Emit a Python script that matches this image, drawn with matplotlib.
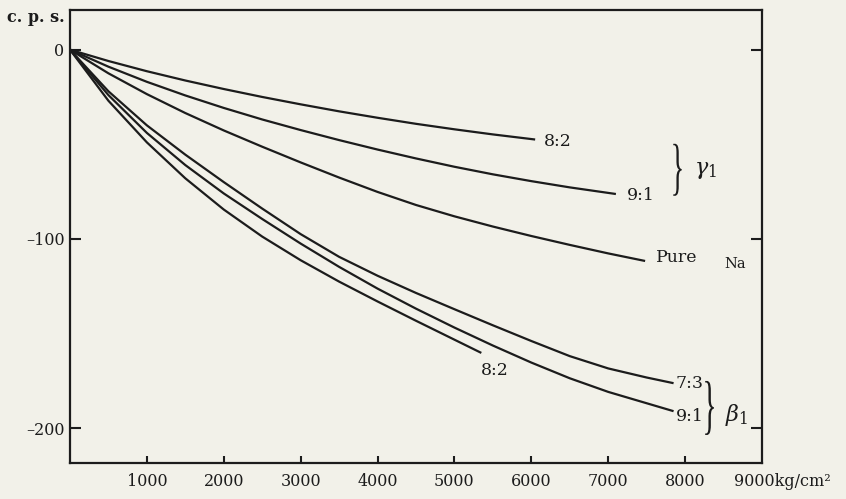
import matplotlib
matplotlib.use('Agg')
import matplotlib.pyplot as plt
from matplotlib.transforms import blended_transform_factory, Affine2D, ScaledTranslation
from matplotlib.textpath import TextPath
from matplotlib.patches import PathPatch
from matplotlib.font_manager import FontProperties

# curves (pressure kg/cm2 vs c.p.s.)
gamma_82_x = [0, 500, 1000, 1500, 2000, 2500, 3000, 3500, 4000, 4500, 5000, 5500, 6050]
gamma_82_y = [0, -6, -11.4, -16.3, -20.8, -25, -28.9, -32.6, -36, -39.2, -42.1, -44.8, -47.5]

gamma_91_x = [0, 500, 1000, 1500, 2000, 2500, 3000, 3500, 4000, 4500, 5000, 5500, 6000, 6500, 7100]
gamma_91_y = [0, -9, -17, -24.2, -30.8, -36.9, -42.5, -47.8, -52.8, -57.5, -61.9, -65.9, -69.5, -72.8, -76.3]

pure_x = [0, 500, 1000, 1500, 2000, 2500, 3000, 3500, 4000, 4500, 5000, 5500, 6000, 6500, 7000, 7480]
pure_y = [0, -12.5, -23.5, -33.5, -42.7, -51.3, -59.6, -67.6, -75.2, -82.1, -88.1, -93.5, -98.5, -103.2, -107.7, -111.7]

beta_82_x = [0, 500, 1000, 1500, 2000, 2500, 3000, 3500, 4000, 4500, 5000, 5350]
beta_82_y = [0, -27, -49, -68, -84.5, -98.8, -111.3, -122.6, -133.1, -143.3, -153.3, -160.3]

beta_91_x = [0, 500, 1000, 1500, 2000, 2500, 3000, 3500, 4000, 4500, 5000, 5500, 6000, 6500, 7000, 7500, 7850]
beta_91_y = [0, -24, -44, -61, -76, -89.5, -102.5, -114.8, -126.3, -136.9, -146.9, -156.4, -165.4, -173.7, -180.9, -186.9, -191.1]

beta_73_x = [0, 500, 1000, 1500, 2000, 2500, 3000, 3500, 4000, 4500, 5000, 5500, 6000, 6500, 7000, 7500, 7850]
beta_73_y = [0, -22, -40, -55.5, -70, -84, -97.5, -109.5, -119.5, -128.6, -137.2, -145.7, -154, -162, -168.5, -173.3, -176.3]

xticks = [1000, 2000, 3000, 4000, 5000, 6000, 7000, 8000]
yticks = [0, -100, -200]
ytick_labels = ['0', '\u2013100', '\u2013200']

bg = '#f2f1e9'
ink = '#1c1c1c'
plt.rcParams['font.family'] = ['DejaVu Serif']
plt.rcParams['mathtext.fontset'] = 'dejavuserif'

fig = plt.figure(figsize=(8.46, 4.99), dpi=100)
fig.patch.set_facecolor(bg)
ax = fig.add_axes([0.0827, 0.0721, 0.818, 0.908])
ax.set_facecolor(bg)

for xs, ys in [(gamma_82_x, gamma_82_y), (gamma_91_x, gamma_91_y), (pure_x, pure_y),
               (beta_82_x, beta_82_y), (beta_91_x, beta_91_y), (beta_73_x, beta_73_y)]:
	ax.plot(xs, ys, color=ink, lw=1.6, solid_capstyle='butt', solid_joinstyle='round')

ax.set_xlim(0, 9000)
ax.set_ylim(-218.5, 21)
for s in ax.spines.values():
	s.set_linewidth(1.6)
	s.set_color(ink)

ax.set_xticks(xticks)
ax.set_xticklabels([str(t) for t in xticks])
ax.set_yticks(yticks)
ax.set_yticklabels(ytick_labels)
ax.tick_params(axis='x', direction='in', length=5, width=1.5, pad=7, labelsize=11.5, colors=ink)
ax.tick_params(axis='y', direction='in', length=8, width=1.5, pad=4, labelsize=11.5, colors=ink,
	left=True, right=True)

# last x label sits at the corner with the unit attached
tr = blended_transform_factory(ax.transData, ax.transAxes)
ax.text(8640, -0.0415, '9000kg/cm\u00b2', transform=tr, ha='left', va='center',
	fontsize=11.5, color=ink, clip_on=False)

fig.text(7/846, 1-18/499, 'c. p. s.', ha='left', va='center', fontsize=11.5,
	fontweight='bold', color=ink)

# curve labels
fs = 12.5
ax.text(6167, -48.7, '8:2', ha='left', va='center', fontsize=fs, color=ink)
ax.text(7249, -77, '9:1', ha='left', va='center', fontsize=fs, color=ink)
ax.text(7627, -110, 'Pure', ha='left', va='center', fontsize=fs, color=ink)
ax.text(8514, -113.5, 'Na', ha='left', va='center', fontsize=10.5, color=ink)
ax.text(5346, -169.6, '8:2', ha='left', va='center', fontsize=fs, color=ink)
ax.text(7875, -176.5, '7:3', ha='left', va='center', fontsize=fs, color=ink)
ax.text(7875, -194, '9:1', ha='left', va='center', fontsize=fs, color=ink)


def brace(x, y, height_px):
	# tall thin "}" drawn from the glyph outline, stretched vertically
	tp = TextPath((0, 0), '}', size=20, prop=FontProperties(family='Liberation Serif'))
	ext = tp.get_extents()
	cx = (ext.x0 + ext.x1) / 2
	cy = (ext.y0 + ext.y1) / 2
	sy = height_px / ext.height
	sx = sy * 0.45
	t = Affine2D().translate(-cx, -cy).scale(sx, sy) + ScaledTranslation(x, y, ax.transData)
	ax.add_patch(PathPatch(tp, transform=t, facecolor=ink, edgecolor='none', clip_on=False))


brace(7901, -63.5, 52)
ax.text(8122, -63.5, r'$\gamma_1$', ha='left', va='center', fontsize=16, color=ink)
brace(8318, -189.4, 54)
ax.text(8514, -193, r'$\beta_1$', ha='left', va='center', fontsize=16, color=ink)

plt.savefig('out.png', dpi=100, facecolor=bg)
